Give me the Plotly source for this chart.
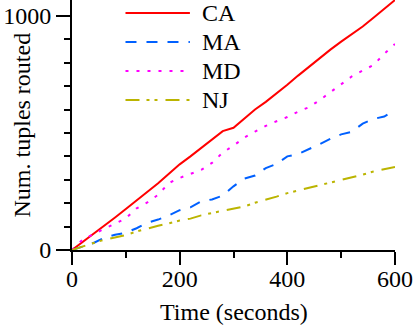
import plotly.graph_objects as go

time_s = list(range(0, 601, 20))
ca = [0, 34, 70, 104, 139, 175, 211, 247, 285, 326, 366, 400, 436, 470, 508,
      522, 560, 600, 633, 668, 706, 745, 783, 820, 856, 890, 922, 955, 992, 1030, 1068]
ma = [0, 15, 30, 52, 65, 74, 93, 116, 130, 148, 170, 182, 208, 216, 232,
      272, 305, 318, 350, 368, 400, 410, 430, 452, 475, 494, 505, 540, 560, 570, 598]
md = [0, 45, 68, 90, 110, 135, 178, 203, 236, 286, 308, 324, 342, 372, 416,
      446, 480, 506, 530, 550, 568, 591, 610, 640, 675, 710, 742, 767, 790, 838, 880]
nj = [0, 16, 30, 44, 53, 64, 79, 93, 104, 114, 126, 134, 148, 158, 168,
      175, 186, 202, 214, 228, 243, 254, 266, 278, 289, 300, 310, 322, 335, 345, 355]

names = ["CA", "MA", "MD", "NJ"]
series = [ca, ma, md, nj]
colors = ["#ff0000", "#0060ff", "#ff00ff", "#bbb400"]
dashes = ["solid", "11px,10px", "3px,8px", "14px,7px,3px,5px,3px,8px"]

FONT = "Liberation Serif, Times New Roman, serif"

fig = go.Figure()
for n, s, c, d in zip(names, series, colors, dashes):
    fig.add_trace(go.Scatter(x=time_s, y=s, mode="lines", name=n,
                             line=dict(color=c, width=2, dash=d), showlegend=False))

# manual legend
leg_y = [0.948, 0.832, 0.716, 0.600]
for n, c, d, yy in zip(names, colors, dashes, leg_y):
    fig.add_shape(type="line", xref="paper", yref="paper", x0=0.1656, x1=0.365,
                  y0=yy, y1=yy, line=dict(color=c, width=2, dash=d))
    fig.add_annotation(xref="paper", yref="paper", x=0.3957, y=yy, text=n,
                       showarrow=False, xanchor="left", yanchor="middle",
                       font=dict(family=FONT, size=24, color="black"))

fig.add_annotation(xref="paper", yref="paper", x=(22 - 72) / 326, y=0.5,
                   text="Num. tuples routed", textangle=-90, showarrow=False,
                   xanchor="center", yanchor="middle",
                   font=dict(family=FONT, size=24, color="black"))
fig.add_annotation(xref="paper", yref="paper", x=0.5, y=(250 - 312) / 250,
                   text="Time (seconds)", showarrow=False,
                   xanchor="center", yanchor="middle",
                   font=dict(family=FONT, size=24, color="black"))

fig.update_layout(
    width=413, height=333,
    margin=dict(l=72, r=15, t=0, b=83),
    plot_bgcolor="white", paper_bgcolor="white",
    font=dict(family=FONT, size=24, color="black"),
)
fig.update_xaxes(range=[0, 600], showgrid=False, zeroline=False,
                 showline=True, linecolor="black", linewidth=2,
                 ticks="outside", tickvals=[0, 200, 400, 600], ticklen=13,
                 tickwidth=2, tickcolor="black", ticklabeloverflow="allow",
                 ticklabelstandoff=-7,
                 minor=dict(tickvals=[100, 300, 500], ticks="outside", ticklen=6,
                            tickwidth=2, tickcolor="black", showgrid=False),
                 tickfont=dict(family=FONT, size=24))
fig.update_yaxes(range=[0, 1068], showgrid=False, zeroline=False,
                 showline=True, linecolor="black", linewidth=2,
                 ticks="outside", tickvals=[0, 1000], ticklen=14,
                 tickwidth=2, tickcolor="black", ticklabeloverflow="allow",
                 minor=dict(tickvals=[100, 200, 300, 400, 500, 600, 700, 800, 900],
                            ticks="outside", ticklen=6, tickwidth=2,
                            tickcolor="black", showgrid=False),
                 tickfont=dict(family=FONT, size=24))

fig.write_html("out.html")
